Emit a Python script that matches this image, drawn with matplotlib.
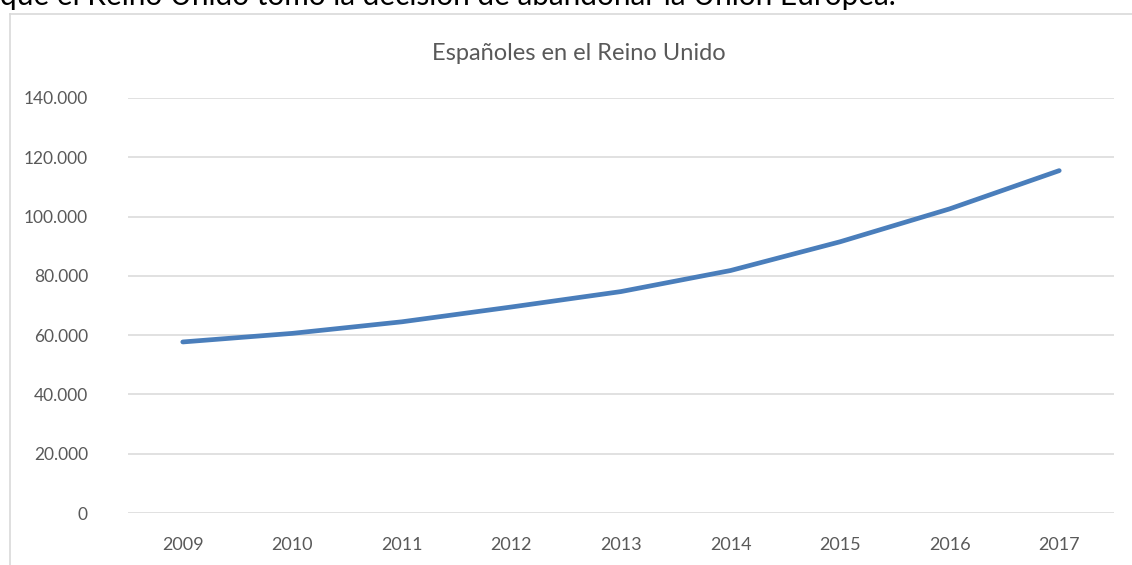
import matplotlib
matplotlib.use("Agg")
import matplotlib.pyplot as plt
from matplotlib.ticker import FuncFormatter
from matplotlib.lines import Line2D

# Spaniards living in the UK
years = ["2009", "2010", "2011", "2012", "2013", "2014", "2015", "2016", "2017"]
residents = [57700, 60600, 64500, 69500, 74700, 81800, 91500, 102600, 115500]
y_ticks = [0, 20000, 40000, 60000, 80000, 100000, 120000, 140000]

title = "Españoles en el Reino Unido"
page_text = "que el Reino Unido tomó la decisión de abandonar la Unión Europea."

plt.rcParams["font.family"] = ["Lato", "DejaVu Sans"]
W, H = 1132, 565
fig = plt.figure(figsize=(W / 100, H / 100), dpi=100)

# body text of the document, cut off at the top of the screenshot
fig.text(0.0, 1 - 5 / H, page_text, fontsize=21.4, color="black",
         ha="left", va="baseline")

# chart frame (light grey border)
fig.add_artist(Line2D([10 / W, 1], [1 - 13.5 / H] * 2, color="#d9d9d9", lw=1.2))
fig.add_artist(Line2D([10 / W] * 2, [0, 1 - 13.5 / H], color="#d9d9d9", lw=1.2))

ax = fig.add_axes([128 / W, (H - 513) / H, (1114 - 128) / W, (513 - 98) / H])
x = list(range(len(years)))
ax.plot(x, residents, color="#4a7ebb", lw=3.4, solid_capstyle="round",
        solid_joinstyle="round")

ax.set_xlim(-0.5, len(years) - 0.5)
ax.set_ylim(0, 140000)
ax.set_yticks(y_ticks)
ax.yaxis.set_major_formatter(
    FuncFormatter(lambda v, p: f"{int(v):,}".replace(",", ".")))
ax.set_xticks(x)
ax.set_xticklabels(years)
ax.grid(True, axis="y", color="#d9d9d9", lw=1.1)
ax.set_axisbelow(True)
for s in ax.spines.values():
    s.set_visible(False)
ax.tick_params(length=0, colors="#595959", labelsize=13)
ax.tick_params(axis="y", pad=28.8, labelsize=12.5)
ax.tick_params(axis="x", pad=17)

fig.text((427 + 731) / 2 / W, 1 - 53 / H, title, fontsize=17,
         color="#595959", ha="center", va="center")

fig.savefig("out.png", dpi=100)
